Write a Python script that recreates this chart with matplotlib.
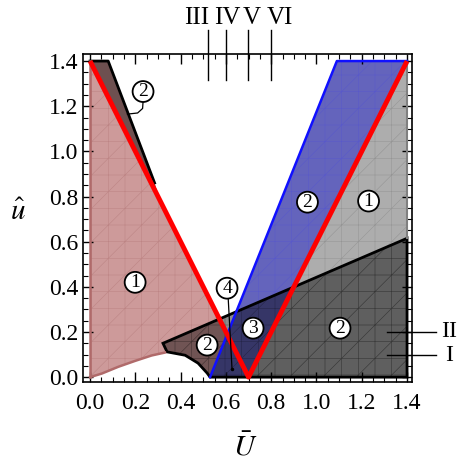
import numpy as np
import matplotlib
matplotlib.use('Agg')
import matplotlib.pyplot as plt
from matplotlib.patches import Polygon
from matplotlib.ticker import MultipleLocator

plt.rcParams['font.family'] = ['Liberation Serif', 'DejaVu Serif']
plt.rcParams['mathtext.fontset'] = 'stix'
plt.rcParams['hatch.linewidth'] = 0.4

# red V lines
red_U = [0.0, 0.7, 1.4]
red_u = [1.4, 0.0, 1.4]

# blue boundary (left edge + top)
blue_U = [0.53, 1.09, 1.4]
blue_u = [0.0, 1.4, 1.4]

# pink lower boundary curve
pink_U = [0.0, 0.052, 0.125, 0.199, 0.272, 0.331]
pink_u = [0.0, 0.016, 0.046, 0.072, 0.096, 0.109]

# lower dark region: upper black line and lower black curve
dark_top_U = [0.322, 1.4]
dark_top_u = [0.15, 0.615]
dark_low_U = [0.53, 0.517, 0.477, 0.42, 0.34, 0.322]
dark_low_u = [0.0, 0.018, 0.062, 0.097, 0.112, 0.15]

# thin dark sliver at top left
sliver_U = [0.0, 0.08, 0.285, 0.31]
sliver_u = [1.4, 1.4, 0.86, 0.78]

# crossing of blue line with left red branch
cross_U, cross_u = 0.606, 0.189

# circled labels
circ_txt = ['1', '2', '2', '3', '4', '2', '1', '2']
circ_U = [0.199, 0.234, 0.517, 0.72, 0.605, 0.96, 1.23, 1.104]
circ_u = [0.42, 1.265, 0.142, 0.217, 0.394, 0.775, 0.78, 0.217]

# top roman markers
roman_txt = ['III', 'IV', 'V', 'VI']
roman_tick_U = [0.521, 0.601, 0.698, 0.80]
roman_lab_U = [0.47, 0.607, 0.715, 0.84]

fig = plt.figure(figsize=(4.64, 4.66), dpi=100)
ax = fig.add_axes([0.179, 0.180, 0.709, 0.704])

def region(xy, fc, hc, alpha=1.0, z=1):
    ax.add_patch(Polygon(xy, closed=True, facecolor=fc, edgecolor='none', lw=0, alpha=alpha, zorder=z))
    ax.add_patch(Polygon(xy, closed=True, facecolor='none', edgecolor=hc, lw=0, hatch='+/', zorder=z + 0.1))

# pink region 1 (left)
pink_xy = [(0.0, 1.4)] + list(zip(pink_U, pink_u)) + list(zip(dark_low_U[::-1], dark_low_u[::-1]))[1:] \
    + [(cross_U, cross_u)]
region(pink_xy, '#cd9a9a', (0.65, 0.4, 0.4, 0.4), z=1)

# light gray region right of red
gray_xy = [(0.7, 0.0), (1.4, 1.4), (1.4, 0.0)]
region(gray_xy, '#adadad', (0.45, 0.45, 0.45, 0.4), z=1)

# blue region
blue_xy = list(zip(blue_U, blue_u)) + [(0.7, 0.0)]
region(blue_xy, '#6464bc', (0.3, 0.3, 0.85, 0.45), z=1.5)

# dark overlay region 2
dark_xy = list(zip(dark_top_U, dark_top_u)) + [(1.4, 0.0)] + list(zip(dark_low_U, dark_low_u))
ax.add_patch(Polygon(dark_xy, closed=True, facecolor='black', edgecolor='none', alpha=0.45, zorder=2))
ax.add_patch(Polygon(dark_xy, closed=True, facecolor='none', edgecolor=(0.1, 0.1, 0.1, 0.45), lw=0,
                     hatch='+/', zorder=2.1))
ax.add_patch(Polygon(dark_xy, closed=True, facecolor='none', edgecolor='black', lw=2.0, zorder=3))

# top sliver
ax.add_patch(Polygon(list(zip(sliver_U, sliver_u)), closed=True, facecolor='#6e5050',
                     edgecolor='none', zorder=2))
ax.plot(sliver_U[:3], sliver_u[:3], color='black', lw=2.0, zorder=3)

# boundary lines
ax.plot([0.0, 0.0], [0.0, 1.4], color='#b06a6a', lw=1.8, zorder=3)
ax.plot(pink_U, pink_u, color='#b06a6a', lw=1.8, zorder=3)
ax.plot([1.4, 1.4], [0.615, 1.4], color='#808080', lw=1.5, zorder=3)
ax.plot(blue_U, blue_u, color='#1010ff', lw=1.8, zorder=3)
ax.plot(red_U, red_u, color='#ff0000', lw=3.5, zorder=4, solid_capstyle='butt')

# circled numbers
for t, x, y in zip(circ_txt, circ_U, circ_u):
    ax.text(x, y, t, ha='center', va='center', fontsize=14, zorder=6,
            bbox=dict(boxstyle='circle,pad=0.1', fc='white', ec='black', lw=1.3))

# leader lines
ax.plot([0.234, 0.232, 0.21, 0.165], [1.22, 1.19, 1.17, 1.165], color='black', lw=0.9, zorder=5)
ax.plot([0.61, 0.627], [0.35, 0.035], color='black', lw=0.9, zorder=5)
ax.plot([0.627], [0.035], 'o', color='black', ms=1.5, zorder=5)

# I / II markers at right
ax.plot([1.31, 1.53], [0.2, 0.2], color='black', lw=1.0, clip_on=False, zorder=5)
ax.plot([1.31, 1.53], [0.097, 0.097], color='black', lw=1.0, clip_on=False, zorder=5)
ax.text(1.55, 0.2, 'II', ha='left', va='center', fontsize=17, clip_on=False)
ax.text(1.57, 0.097, 'I', ha='left', va='center', fontsize=17, clip_on=False)

# roman markers at top
for t, xt, xl in zip(roman_txt, roman_tick_U, roman_lab_U):
    ax.plot([xt, xt], [1.316, 1.537], color='black', lw=1.0, clip_on=False, zorder=5)
    ax.text(xl, 1.54, t, ha='center', va='bottom', fontsize=18, clip_on=False)

ax.set_xlim(-0.031, 1.422)
ax.set_ylim(-0.022, 1.431)
ax.xaxis.set_major_locator(MultipleLocator(0.2))
ax.xaxis.set_minor_locator(MultipleLocator(0.05))
ax.yaxis.set_major_locator(MultipleLocator(0.2))
ax.yaxis.set_minor_locator(MultipleLocator(0.05))
ax.tick_params(which='both', direction='in', top=True, right=True, labelsize=17)
ax.tick_params(which='major', length=7, width=1.0)
ax.tick_params(which='minor', length=3.5, width=0.8)
ax.tick_params(axis='x', pad=8)
ax.xaxis.set_major_formatter(matplotlib.ticker.FormatStrFormatter('%.1f'))
ax.yaxis.set_major_formatter(matplotlib.ticker.FormatStrFormatter('%.1f'))
for s in ax.spines.values():
    s.set_linewidth(1.2)

fig.text(18 / 464, 1 - 213 / 466, r'$\hat{u}$', fontsize=21, ha='center', va='center')
fig.text(245 / 464, 1 - 447 / 466, r'$\bar{U}$', fontsize=21, ha='center', va='center')

fig.savefig('out.png', dpi=100)
